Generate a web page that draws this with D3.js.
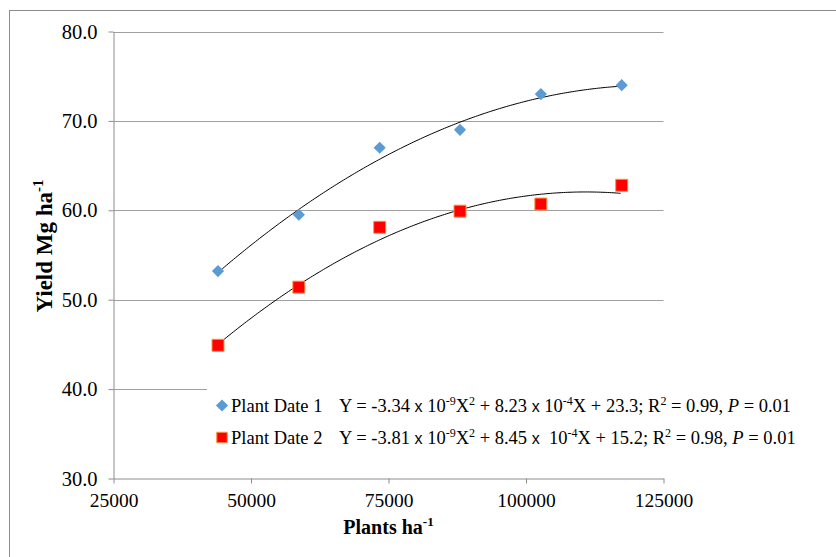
<!DOCTYPE html>
<html>
<head>
<meta charset="utf-8">
<script src="https://cdn.jsdelivr.net/npm/d3@7"></script>
<style>
  html, body { margin: 0; padding: 0; background: #fff; }
  svg { display: block; font-family: "Liberation Serif", "Times New Roman", serif; }
  text { white-space: pre; }
</style>
</head>
<body>
<div id="chart"></div>
<script>
// data
const density = [44000, 58700, 73400, 88000, 102700, 117400];
const yieldDate1 = [53.2, 59.5, 67.0, 69.0, 73.0, 74.0];
const yieldDate2 = [44.9, 51.4, 58.1, 59.9, 60.7, 62.8];

// trendline coefficients as printed in the legend: [a, b, c] for aX^2 + bX + c
const fitDate1 = [-3.34e-9, 8.23e-4, 23.3];
const fitDate2 = [-3.81e-9, 8.45e-4, 15.2];

const xTicks = [25000, 50000, 75000, 100000, 125000];
const yTicks = [30, 40, 50, 60, 70, 80];
const seriesNames = ['Plant Date 1', 'Plant Date 2'];

const width = 836, height = 557;

const svg = d3.select('#chart')
    .append('svg')
    .attr('width', width)
    .attr('height', height);

// outer chart border (only left/top visible)
svg.append('rect')
    .attr('x', 9.5).attr('y', 10.5)
    .attr('width', 900).attr('height', 900)
    .attr('fill', 'none')
    .attr('stroke', '#8c8c8c');

const x = d3.scaleLinear().domain([25000, 125000]).range([113.5, 663.5]);
const y = d3.scaleLinear().domain([30, 80]).range([478.5, 31.5]);

// gridlines
svg.append('g')
    .selectAll('line')
    .data(yTicks.slice(1))
    .enter()
    .append('line')
    .attr('x1', x(25000)).attr('x2', x(125000))
    .attr('y1', d => Math.round(y(d)) + 0.5)
    .attr('y2', d => Math.round(y(d)) + 0.5)
    .attr('stroke', '#a0a0a0')
    .attr('stroke-width', 1);

// axes
const yAxis = svg.append('g')
    .attr('transform', `translate(${x(25000)},0)`)
    .call(d3.axisLeft(y).tickValues(yTicks).tickFormat(d3.format('.1f'))
        .tickSizeInner(5).tickSizeOuter(0).tickPadding(11));

const xAxis = svg.append('g')
    .attr('transform', `translate(0,${y(30)})`)
    .call(d3.axisBottom(x).tickValues(xTicks).tickFormat(d3.format('d'))
        .tickSizeInner(5).tickSizeOuter(0).tickPadding(10));

[yAxis, xAxis].forEach(ax => {
    ax.attr('font-family', null).attr('font-size', null);
    ax.selectAll('path, line').attr('stroke', '#8c8c8c');
    ax.selectAll('text').attr('fill', '#000');
});
yAxis.selectAll('text').attr('font-size', 20.5);
xAxis.selectAll('text').attr('font-size', 19.5);

// axis titles
const yTitle = svg.append('text')
    .attr('transform', 'translate(52,246) rotate(-90)')
    .attr('text-anchor', 'middle')
    .attr('font-weight', 'bold')
    .attr('font-size', 23);
yTitle.append('tspan').text('Yield Mg ha');
yTitle.append('tspan').attr('font-size', 15).attr('dy', -9).text('-1');

const xTitle = svg.append('text')
    .attr('x', x(75000)).attr('y', 534)
    .attr('text-anchor', 'middle')
    .attr('font-weight', 'bold')
    .attr('font-size', 20);
xTitle.append('tspan').text('Plants ha');
xTitle.append('tspan').attr('font-size', 13).attr('dy', -8).text('-1');

// legend background hides part of the 40.0 gridline
svg.append('rect')
    .attr('x', 207).attr('y', 383)
    .attr('width', 600).attr('height', 74)
    .attr('fill', '#fff');

// trendlines
const fitLine = d3.line()
    .x(d => x(d[0]))
    .y(d => y(d[1]));

const xs = d3.range(density[0], density[density.length - 1] + 1, 400);
[fitDate1, fitDate2].forEach(c => {
    svg.append('path')
        .datum(xs.map(v => [v, c[0] * v * v + c[1] * v + c[2]]))
        .attr('d', fitLine)
        .attr('fill', 'none')
        .attr('stroke', '#000')
        .attr('stroke-width', 1);
});

// markers
const diamond = d3.symbol().type(d3.symbolSquare).size(74);
const square = d3.symbol().type(d3.symbolSquare).size(144);

svg.append('g')
    .selectAll('path')
    .data(density.map((d, i) => [d, yieldDate1[i]]))
    .enter()
    .append('path')
    .attr('d', diamond)
    .attr('transform', d => `translate(${x(d[0])},${y(d[1])}) rotate(45)`)
    .attr('fill', '#5b9bd5');

svg.append('g')
    .selectAll('path')
    .data(density.map((d, i) => [d, yieldDate2[i]]))
    .enter()
    .append('path')
    .attr('d', square)
    .attr('transform', d => `translate(${x(d[0])},${y(d[1])})`)
    .attr('fill', '#ff0000')
    .attr('stroke', '#f79646')
    .attr('stroke-width', 1);

// legend
const legendRows = [405.5, 437.5];
svg.append('path')
    .attr('d', diamond)
    .attr('transform', `translate(222,${legendRows[0]}) rotate(45)`)
    .attr('fill', '#5b9bd5');
svg.append('path')
    .attr('d', d3.symbol().type(d3.symbolSquare).size(110))
    .attr('transform', `translate(222,${legendRows[1]})`)
    .attr('fill', '#ff0000')
    .attr('stroke', '#f79646');

seriesNames.forEach((name, i) => {
    svg.append('text')
        .attr('x', 231).attr('y', legendRows[i] + 6.5)
        .attr('font-size', 18.5)
        .text(name);
});

// equations
function equation(row, parts) {
    const t = svg.append('text')
        .attr('x', 339).attr('y', legendRows[row] + 6.5)
        .attr('font-size', 18.5);
    let raised = false;
    parts.forEach(p => {
        const s = t.append('tspan').text(p.t);
        if (p.sup) {
            s.attr('font-size', 12).attr('dy', raised ? 0 : -7);
            raised = true;
        } else {
            if (raised) s.attr('dy', 7);
            raised = false;
        }
        if (p.sans) s.style('font-family', '"Liberation Sans", Arial, sans-serif').attr('font-size', 16);
        if (p.it) s.attr('font-style', 'italic');
    });
}

equation(0, [
    { t: 'Y = -3.34 ' }, { t: 'x', sans: true }, { t: ' 10' }, { t: '-9', sup: true },
    { t: 'X' }, { t: '2', sup: true }, { t: ' + 8.23 ' }, { t: 'x', sans: true },
    { t: ' 10' }, { t: '-4', sup: true }, { t: 'X + 23.3; R' }, { t: '2', sup: true },
    { t: ' = 0.99, ' }, { t: 'P', it: true }, { t: ' = 0.01' }
]);
equation(1, [
    { t: 'Y = -3.81 ' }, { t: 'x', sans: true }, { t: ' 10' }, { t: '-9', sup: true },
    { t: 'X' }, { t: '2', sup: true }, { t: ' + 8.45 ' }, { t: 'x', sans: true },
    { t: '  10' }, { t: '-4', sup: true }, { t: 'X + 15.2; R' }, { t: '2', sup: true },
    { t: ' = 0.98, ' }, { t: 'P', it: true }, { t: ' = 0.01' }
]);
</script>
</body>
</html>
